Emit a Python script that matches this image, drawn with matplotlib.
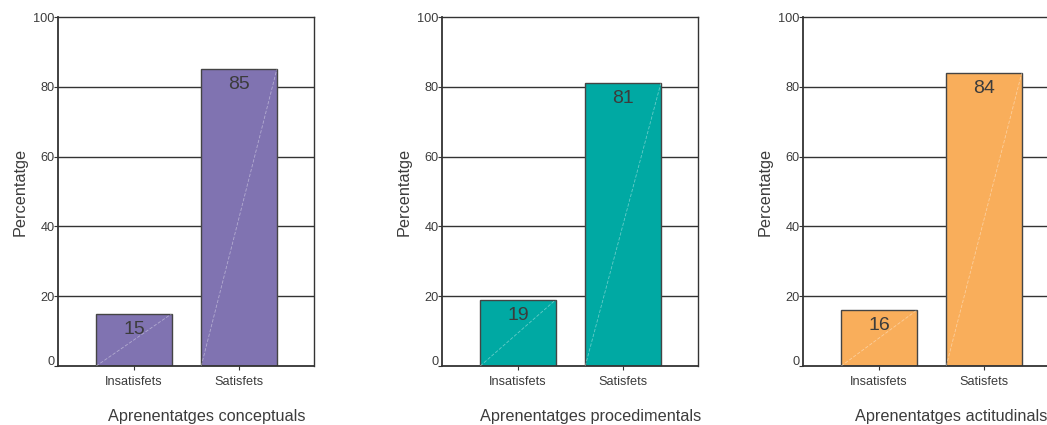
import matplotlib
matplotlib.use("Agg")
import matplotlib.pyplot as plt
import matplotlib.transforms as mtransforms

plt.rcParams["font.family"] = ["Liberation Sans", "DejaVu Sans"]

categories = ["Insatisfets", "Satisfets"]
conceptuals = [15, 85]
procedimentals = [19, 81]
actitudinals = [16, 84]

panel_titles = ["Aprenentatges conceptuals",
                "Aprenentatges procedimentals",
                "Aprenentatges actitudinals"]
panel_values = [conceptuals, procedimentals, actitudinals]
panel_colors = ["#8073b1", "#00a9a3", "#f9ae5b"]

y_ticks = [0, 20, 40, 60, 80, 100]

TEXT = "#3c3c3c"
LINE = "#333333"
W, H = 1047.0, 425.0


def draw_panel(fig, left, values, color, title):
    ax = fig.add_axes([left / W, 59 / H, 256 / W, 349 / H])
    x = list(range(len(categories)))

    # horizontal gridlines behind the bars
    for t in y_ticks[1:-1]:
        ax.axhline(t, color=LINE, lw=1.0, zorder=1)

    bars = ax.bar(x, values, width=0.72, color=color, edgecolor="#444444",
                  linewidth=1.0, zorder=2)

    for rect, v in zip(bars, values):
        x0 = rect.get_x()
        x1 = x0 + rect.get_width()
        ax.plot([x0, x1], [0, v], color="white", alpha=0.4, lw=0.6,
                ls=(0, (4, 2)), zorder=3)
        ax.annotate(str(v), (rect.get_x() + rect.get_width() / 2, v),
                    xytext=(0, -5), textcoords="offset points",
                    ha="center", va="top", fontsize=14, color=TEXT,
                    zorder=4)

    ax.set_xlim(-0.724, 1.714)
    ax.set_ylim(0, 100)
    ax.set_xticks(x)
    ax.set_xticklabels(categories, fontsize=9.2, color=TEXT)
    ax.set_yticks(y_ticks)
    ax.set_yticklabels([str(t) for t in y_ticks], fontsize=9.2, color=TEXT)
    ax.tick_params(axis="x", length=3, width=0.8, color=LINE, pad=4)
    ax.tick_params(axis="y", length=3, width=0.8, color=LINE, pad=-0.5)

    # the zero label is lifted off the baseline
    shift = mtransforms.ScaledTranslation(0, 4 / 72, fig.dpi_scale_trans)
    zero_lbl = ax.get_yticklabels()[0]
    zero_lbl.set_transform(zero_lbl.get_transform() + shift)

    for side in ["top", "right"]:
        ax.spines[side].set_color(LINE)
        ax.spines[side].set_linewidth(1.0)
    for side in ["left", "bottom"]:
        ax.spines[side].set_color(LINE)
        ax.spines[side].set_linewidth(1.3)

    ax.set_ylabel("Percentatge", fontsize=11.7, color=TEXT, labelpad=4)

    # panel caption along the bottom edge of the figure
    cx = (left + 0.58 * 256) / W
    fig.text(cx, 1.5 / H, title, ha="center", va="bottom",
             fontsize=11.7, color=TEXT)
    return ax


fig = plt.figure(figsize=(10.47, 4.25), dpi=100)
for left, vals, col, title in zip([58, 442, 803], panel_values,
                                  panel_colors, panel_titles):
    draw_panel(fig, left, vals, col, title)

fig.savefig("out.png", dpi=100, facecolor="white")
